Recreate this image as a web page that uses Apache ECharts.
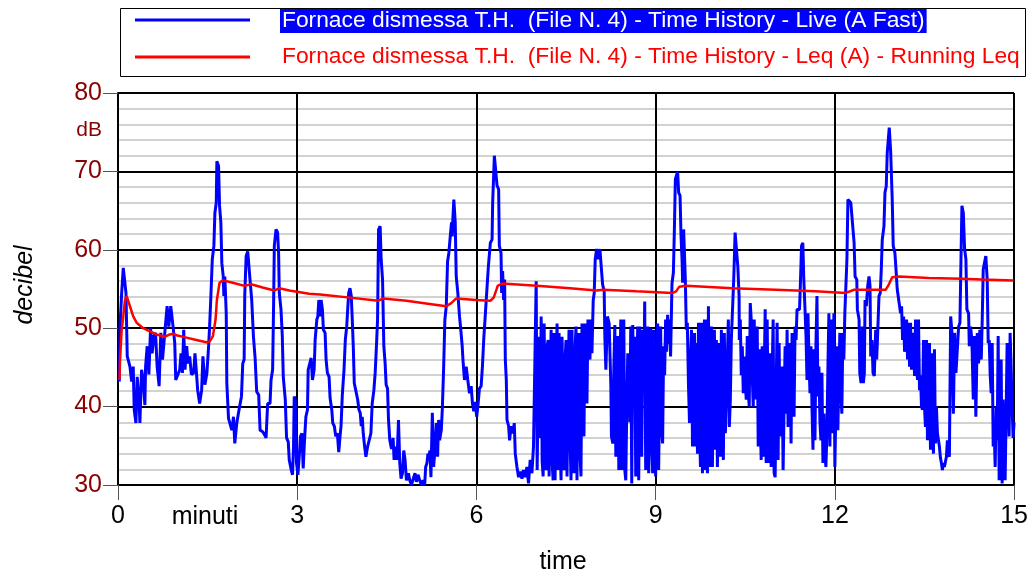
<!DOCTYPE html>
<html><head><meta charset="utf-8">
<script src="https://cdn.jsdelivr.net/npm/echarts@6/dist/echarts.min.js"></script>
<style>html,body{margin:0;padding:0;background:#fff}#c{width:1031px;height:576px}</style>
</head><body><div id="c"></div><script>
// ---- data ----
const xTickMinutes = [0, 3, 6, 9, 12, 15];
const yTickDb = [30, 40, 50, 60, 70, 80];
const liveName = 'Fornace dismessa T.H.  (File N. 4) - Time History - Live (A Fast)';
const leqName = 'Fornace dismessa T.H.  (File N. 4) - Time History - Leq (A) - Running Leq';
// Live (A Fast): [time in seconds, dB] read at the curve's vertices
const liveSamples = [[1.3,43.2],[2,50.2],[3.7,54.5],[5.3,57.7],[7,57.9],[8,54.5],[9.3,46.4],[12,45.1],[13.7,43.2],[15.3,45.1],[16.3,39.6],[18,37.9],[19.3,43.8],[21.3,40.2],[22,37.9],[23.7,44.7],[25.3,43.4],[27,40.2],[27.7,45.1],[29.3,47.7],[31,44.1],[32.7,50.0],[34.3,46.8],[36,49.0],[37.7,49.4],[39.3,45.1],[41.3,42.6],[43,49.4],[44.7,46.0],[47,49.4],[49.3,52.8],[51,50.2],[53,52.8],[55.3,50.2],[57,48.1],[58,43.4],[60,43.2],[62,44.7],[63.3,46.8],[64.7,44.3],[66,49.8],[67.3,44.7],[69,47.7],[70.3,45.5],[72,46.4],[73.7,44.1],[76,44.3],[77.3,46.8],[78.7,44.5],[80,42.1],[82,40.4],[84,42.1],[85.3,46.4],[87.3,42.8],[89.3,44.3],[91,47.7],[92,50.2],[93.3,54.1],[94.7,58.8],[96.3,60.5],[97.3,64.7],[98.7,66.0],[99.3,71.3],[101,70.7],[102,65.6],[103.3,63.5],[104.3,58.3],[105.7,56.6],[106.3,54.1],[107.3,56.6],[108.7,51.9],[109.3,43.0],[111,38.5],[112.7,38.5],[114.3,37.0],[116,38.7],[117.3,35.3],[119.3,37.9],[121.3,39.4],[123,39.4],[124,41.3],[125.3,45.5],[126.7,46.0],[127.3,54.1],[128.7,59.2],[130.3,59.8],[132,57.1],[133.7,57.1],[134.3,53.6],[136,49.0],[137.7,46.2],[139.3,41.9],[141.3,41.5],[142.7,37.0],[145.3,36.8],[147.3,36.4],[148.7,36.0],[150.3,40.4],[152.7,40.4],[153.7,43.4],[155.3,44.7],[156.3,53.2],[157,60.5],[158.7,62.6],[160.3,62.2],[161.3,59.6],[162,54.5],[163.7,52.4],[165,49.0],[166,43.8],[168,40.9],[169.3,36.0],[171,35.5],[172,33.2],[173.7,32.1],[175.3,31.3],[176.3,34.9],[177,41.3],[178,40.9],[179.3,32.8],[180.7,31.3],[182,33.6],[183.3,36.2],[184.7,36.6],[186,32.1],[187.3,35.7],[188.7,38.7],[190.3,39.6],[191,44.7],[194,46.2],[195.3,43.4],[197,44.7],[198,48.5],[199.7,51.1],[200.7,51.5],[201.7,53.6],[203,51.5],[204,53.6],[205.3,52.4],[206.3,49.8],[208,49.4],[209,46.0],[210.3,44.3],[212,43.8],[213,41.1],[214.7,39.6],[215.7,37.9],[217.3,37.5],[218.7,36.2],[220.3,36.6],[221.7,34.2],[223,36.2],[224,37.5],[225.3,41.5],[227,44.7],[228.3,48.5],[229.7,50.2],[230.7,52.4],[231.7,54.5],[233,55.1],[234.3,54.1],[235.3,51.1],[236.3,47.7],[237.3,43.0],[239,42.8],[240.7,40.9],[242,39.6],[243.3,39.2],[244.3,37.5],[245.3,38.7],[246.3,36.6],[247.7,34.9],[249,33.6],[250.7,34.9],[252.3,34.9],[254,36.6],[255.3,40.4],[257,42.1],[258.3,44.3],[259.7,48.1],[260.7,51.1],[261.7,62.6],[263.3,63.0],[264.3,58.8],[265.7,56.2],[267,47.7],[268.3,45.5],[269.3,42.8],[270.7,42.3],[271.7,38.3],[273,35.7],[274.7,34.6],[276.3,36.0],[277.3,33.2],[279,34.9],[280.3,33.2],[281.7,38.3],[283,32.8],[284.3,30.8],[285.7,31.5],[287,34.4],[288.3,33.2],[289.7,30.6],[291.7,31.5],[293,30.6],[294.7,30.0],[297,31.0],[298.3,31.5],[299.7,30.4],[301.3,31.3],[303,30.6],[304.7,30.0],[306.3,30.6],[308,30.0],[309,32.3],[310.3,32.8],[311.3,34.0],[312.3,33.6],[313.3,34.4],[314.3,31.0],[315.7,39.2],[317,32.3],[318.3,34.4],[319.7,37.9],[321,33.6],[322,38.3],[323,35.7],[324.7,37.0],[325.7,39.6],[327,44.7],[328.3,51.1],[329.7,52.8],[331,58.5],[332.3,59.6],[333.7,61.7],[335,63.5],[335.7,61.7],[336.3,63.9],[337.3,66.4],[338.7,63.5],[339.7,56.6],[341.3,54.5],[343,51.5],[344.3,49.8],[345.7,47.7],[346.7,45.5],[348,43.4],[349.7,45.1],[351.3,43.4],[353,41.7],[354.7,42.6],[356,40.4],[357.3,39.4],[358.7,40.6],[360.3,38.7],[361.7,40.4],[363,42.3],[364.7,42.6],[366,45.1],[367.3,48.5],[369,51.9],[370.7,55.3],[372,57.9],[374,60.9],[375.7,61.3],[376.3,66.0],[378,72.0],[379.7,72.2],[380.7,68.2],[382.3,67.7],[383,60.5],[384.7,59.6],[385.3,54.5],[386.3,57.3],[387.3,53.6],[388.3,56.2],[389,46.0],[390,43.4],[390.7,38.3],[392.3,37.5],[393.3,35.7],[394.7,37.5],[396.7,36.6],[398,37.9],[399,34.0],[400.7,32.3],[402.3,31.0],[404,31.7],[405.7,30.8],[407.3,31.9],[409,31.0],[410.7,32.3],[412.3,30.2],[414,33.2],[415.7,31.5],[417.3,34.9],[419,34.9],[420,56.0],
[477.3,53.6],[478.3,54.5],[479.3,58.8],[480.7,60.1],[482.3,58.8],[484,60.1],[485.7,59.9],[486.7,55.6],[488.3,54.7],[489,48.7],[490,44.7],[491.6,51.5],[493.3,50.6],[495,42.6],[495.6,36.2],
[556.4,55.7],[557.8,57.1],[558.8,62.6],[559.8,69.0],[561.1,69.6],[562.1,69.9],[563.1,67.3],[564.5,66.9],[565.5,61.7],[566.5,58.8],[567.1,55.8],[568.1,62.6],[569.1,62.8],[569.8,56.2],[570.8,49.8],[571.8,50.7],
[618.5,56.6],[619.8,62.2],[621.1,62.2],[622.5,57.9],[623.8,54.1],
[684.5,52.4],[685.5,56.2],[686.5,60.5],[687.8,60.9],[688.8,56.2],
[732.1,58.8],[733.1,66.4],[734.3,66.4],[736,66.0],[737.6,65.8],[739.3,60.9],[740.3,56.6],[742,56.2],[742.6,52.4],[744.3,51.1],[745,44.3],[746.3,43.0],[747.6,50.2],[748.6,43.0],[749.6,44.3],[750.3,53.6],[751.6,52.8],[753,55.4],[754.3,56.6],[755.3,55.4],[756,46.4],[757.3,48.5],[758.3,44.3],[759.6,43.9],[761,49.8],[762,46.0],[763,49.4],[764.3,54.1],[765.6,54.5],[766.6,57.5],[767.6,61.3],[769.3,63.0],[770.3,67.3],[771.6,68.1],[772.6,72.4],[774,72.4],[774.6,75.6],[776,72.6],[777.6,66.4],[778.6,60.5],[780.3,59.6],[781.6,57.1],[782.6,55.0],[783.6,55.0],[785,52.8],
[836.3,51.5],[837.6,49.4],[839,39.1],[840.3,49.4],[841.6,44.3],[843,44.3],[844.3,50.2],[845.6,50.7],[846.6,58.3],[847.6,65.6],[849,64.7],[850.3,60.1],[851.6,58.8],[852.6,52.4],[854.3,51.9],[855,47.7],[856.3,50.2],[857.6,48.5],[859,40.9],[860.3,49.0],[861.6,38.7],[863,49.4],[864.3,45.5],[865.6,49.8],[867,46.0],[868,51.1],[869,57.5],[870.3,57.5],[871.6,59.2],[873,56.2]];
// Dense stretches of the Live curve, one reading per second from the given start second
const denseStarts = [421, 497, 573, 624, 690, 786, 874];
const denseA = [31.9,44,48.9,36,51.5,33,31.1,50.6,38,31.9,47.7,48.5,31.1,42,49.8,33,30.6,49.4,30.6,45,50.6,31.9,49.4,35,30.6,48.9,40,31.9,46,48.5,31.1,43,49.8,36,30.6,49.8,39,31.5,47,50.2,30.6,44,49.4,34,31.1,50.6,41,36.2,50.6,43,40.4,51.1,47,46.0,51.1,46.8];
const denseB = [35.3,45,50.4,33.6,40.4,49,31.9,44,51.1,31.9,42,51.1,31.9,30.6,40,46.8,44.7,38,50.2,30.2,50.4,41,48.9,31.1,44,50.2,30.6,50.2,38,33.6,49.8,42,53.4,31.9,45,50.2,31.5,40,50.0,35,31.5,49.8,43,31.1,47,50.6,31.9,42,50.2,37,35.3,47.7,44,51.1,47,51.7,48,51.1,46.4];
const denseC = [42.6,37.9,46,49.8,34.9,43,49.4,34.9,48.1,34.0,50.7,38,32.3,50.7,31.5,45,51.1,31.9,51.1,31.5,52.8,36,32.3,50.2,32.3,46,49.8,34.5,48.5,32.3,41,48.1,33.6,49.8,38,33.2,49.4,36.6,40.9,46,51.1,37.4,40.9,48.5];
const denseD = [48.5,51.1,44,47.7,41.7,46.4,43,40.9,49.0,42,40.0,53.2,51.1,44,40.0,51.1,40.9,46,50.2,34.9,47.3,38,33.2,47.7,33.6,44,52.4,32.8,51.1,38,32.8,46.8,32.3,44,51.1,31.5,31.0,42,50.7,33.2,48.1,36.2,42,45.1,31.9,40,47.7,39.1,49.8,37.4,44,48.1,35.3,49.4,41,38.7,50.2,48.5,52.4];
const denseE = [52.4,49.0,43.4,51.9,46,41.7,47.7,40,34.5,47.3,35.7,48,54.1,41.3,45.1,38,35.7,44.3,32.8,39.1,34,32.3,36.6,45,51.9,34.9,51.1,40,36.6,51.9,32.3,40,47.7,37.0,44,49.4,42,39.1,49.4,46,51.9];
const denseF = [51.9,52.8,48.5,51.5,47,47.7,51.1,46.0,50.7,45.1,50.7,44.7,47,49.4,43.9,51.1,45,43.4,51.1,42.1,44,40.0,39.6,48.5,40,37.4,48.5,35.7,44,48.1,34.5,46.8,38,34.0,47.3,35.3,40,36.6,36.6,34.9,33.5,32.8,31.9,32.8,32.3,32.3,33.6,35.7,34,33.6];
const denseG = [48.1,48.5,44,41.7,48.1,34.9,37.0,32.3,40,35.7,49.0,30.6,40,46.0,30.2,40.9,35,30.6,39.1,48.1,42,36.2,49.4,45.1,40,36,38];
// Running Leq: [time in seconds, dB]
const leqSamples = [[1.5,43.4],[2,46.0],[3.7,49.8],[5.3,51.5],[7,53.6],[8.7,54.1],[12,52.8],[15.3,51.5],[18.7,50.7],[25.3,50.0],[32,49.6],[38.7,49.2],[47,48.9],[52,49.2],[55.3,49.3],[58.7,49.1],[68.7,48.8],[78.7,48.5],[88.7,48.2],[92,48.3],[95.3,49.0],[98,51.1],[99.3,53.6],[102,55.8],[105.3,56.1],[115.3,55.8],[127,55.4],[133.7,55.6],[145.3,55.2],[157,54.8],[162,55.1],[172,54.8],[192,54.4],[203,54.3],[233,53.9],[261.3,53.5],[266.3,53.8],[289.7,53.5],[313,53.1],[329.7,52.8],[334.7,53.2],[339.7,53.8],[359.7,53.6],[374,53.5],[377.3,53.9],[380,54.9],[381.3,55.4],[385.7,55.7],[420.7,55.4],[454,55.1],[480.7,54.8],[487.3,54.9],[520.7,54.7],[557.1,54.5],[560.5,54.7],[563.8,55.3],[570.5,55.4],[617.1,55.1],[660.5,54.9],[700.5,54.7],[731,54.5],[739.3,54.9],[771,54.9],[774.3,55.6],[777.6,56.5],[784.3,56.6],[814.3,56.4],[847.6,56.3],[867.6,56.2],[899.5,56.1]];

// ---- chart ----
const FONT = '"Liberation Sans", Arial, sans-serif';
const denseLists = [denseA, denseB, denseC, denseD, denseE, denseF, denseG];
const livePoints = liveSamples.slice();
denseLists.forEach((vals, k) => vals.forEach((v, i) => livePoints.push([denseStarts[k] + i, v])));
livePoints.sort((a, b) => a[0] - b[0]);
const toMinutes = arr => arr.map(p => [p[0] / 60, p[1]]);
const chart = echarts.init(document.getElementById('c'), null, {renderer: 'canvas'});
chart.setOption({
  animation: false,
  backgroundColor: '#fff',
  grid: {left: 118, right: 16, top: 93, bottom: 91, containLabel: false},
  xAxis: {
    type: 'value', min: xTickMinutes[0], max: xTickMinutes[xTickMinutes.length - 1], interval: 3,
    axisLine: {show: true, lineStyle: {color: '#000', width: 2}},
    axisTick: {show: true, length: 15, lineStyle: {color: '#555', width: 1}},
    axisLabel: {fontSize: 25, color: '#000', fontFamily: FONT, margin: 19},
    splitLine: {show: true, lineStyle: {color: '#000', width: 2}}
  },
  yAxis: {
    type: 'value', min: yTickDb[0], max: yTickDb[yTickDb.length - 1], interval: 10,
    axisLine: {show: true, lineStyle: {color: '#000', width: 2}},
    axisTick: {show: true, length: 15, lineStyle: {color: '#555', width: 1}},
    axisLabel: {fontSize: 25, color: '#8b0000', fontFamily: FONT, margin: 16},
    splitLine: {show: true, lineStyle: {color: '#000', width: 2}},
    minorTick: {show: false, splitNumber: 5},
    minorSplitLine: {show: true, lineStyle: {color: '#c4c4c4', width: 1.5}}
  },
  series: [
    {name: liveName, type: 'line', data: toMinutes(livePoints), showSymbol: false, symbol: 'none', sampling: false,
     lineStyle: {color: '#0000ff', width: 3}, itemStyle: {color: '#0000ff'}, z: 2, clip: true},
    {name: leqName, type: 'line', data: toMinutes(leqSamples), showSymbol: false, symbol: 'none',
     lineStyle: {color: '#ff0000', width: 2.5}, itemStyle: {color: '#ff0000'}, z: 3, clip: true}
  ],
  graphic: [
    {type: 'rect', shape: {x: 120.5, y: 8.5, width: 905, height: 68}, style: {fill: '#fff', stroke: '#000', lineWidth: 1}, z: 10},
    {type: 'line', shape: {x1: 135, y1: 20, x2: 250, y2: 20}, style: {stroke: '#0000ff', lineWidth: 3}, z: 11},
    {type: 'line', shape: {x1: 135, y1: 57, x2: 250, y2: 57}, style: {stroke: '#ff0000', lineWidth: 3}, z: 11},
    {type: 'text', x: 280, y: 21, z: 11, style: {text: liveName, fill: '#fff', backgroundColor: '#0000ff', padding: [1, 2, 0, 2], font: '22.8px ' + FONT, verticalAlign: 'middle', align: 'left'}},
    {type: 'text', x: 282, y: 57, z: 11, style: {text: leqName, fill: '#ff0000', font: '22.8px ' + FONT, verticalAlign: 'middle', align: 'left'}},
    {type: 'text', x: 102, y: 130, style: {text: 'dB', fill: '#8b0000', font: '21px ' + FONT, align: 'right', verticalAlign: 'middle'}},
    {type: 'text', x: 205, y: 517, style: {text: 'minuti', fill: '#000', font: '25px ' + FONT, align: 'center', verticalAlign: 'middle'}},
    {type: 'text', x: 563, y: 562, style: {text: 'time', fill: '#000', font: '25px ' + FONT, align: 'center', verticalAlign: 'middle'}},
    {type: 'text', x: 25, y: 285, rotation: Math.PI / 2, style: {text: 'decibel', fill: '#000', font: 'italic 25px ' + FONT, align: 'center', verticalAlign: 'middle'}}
  ]
});
</script></body></html>
